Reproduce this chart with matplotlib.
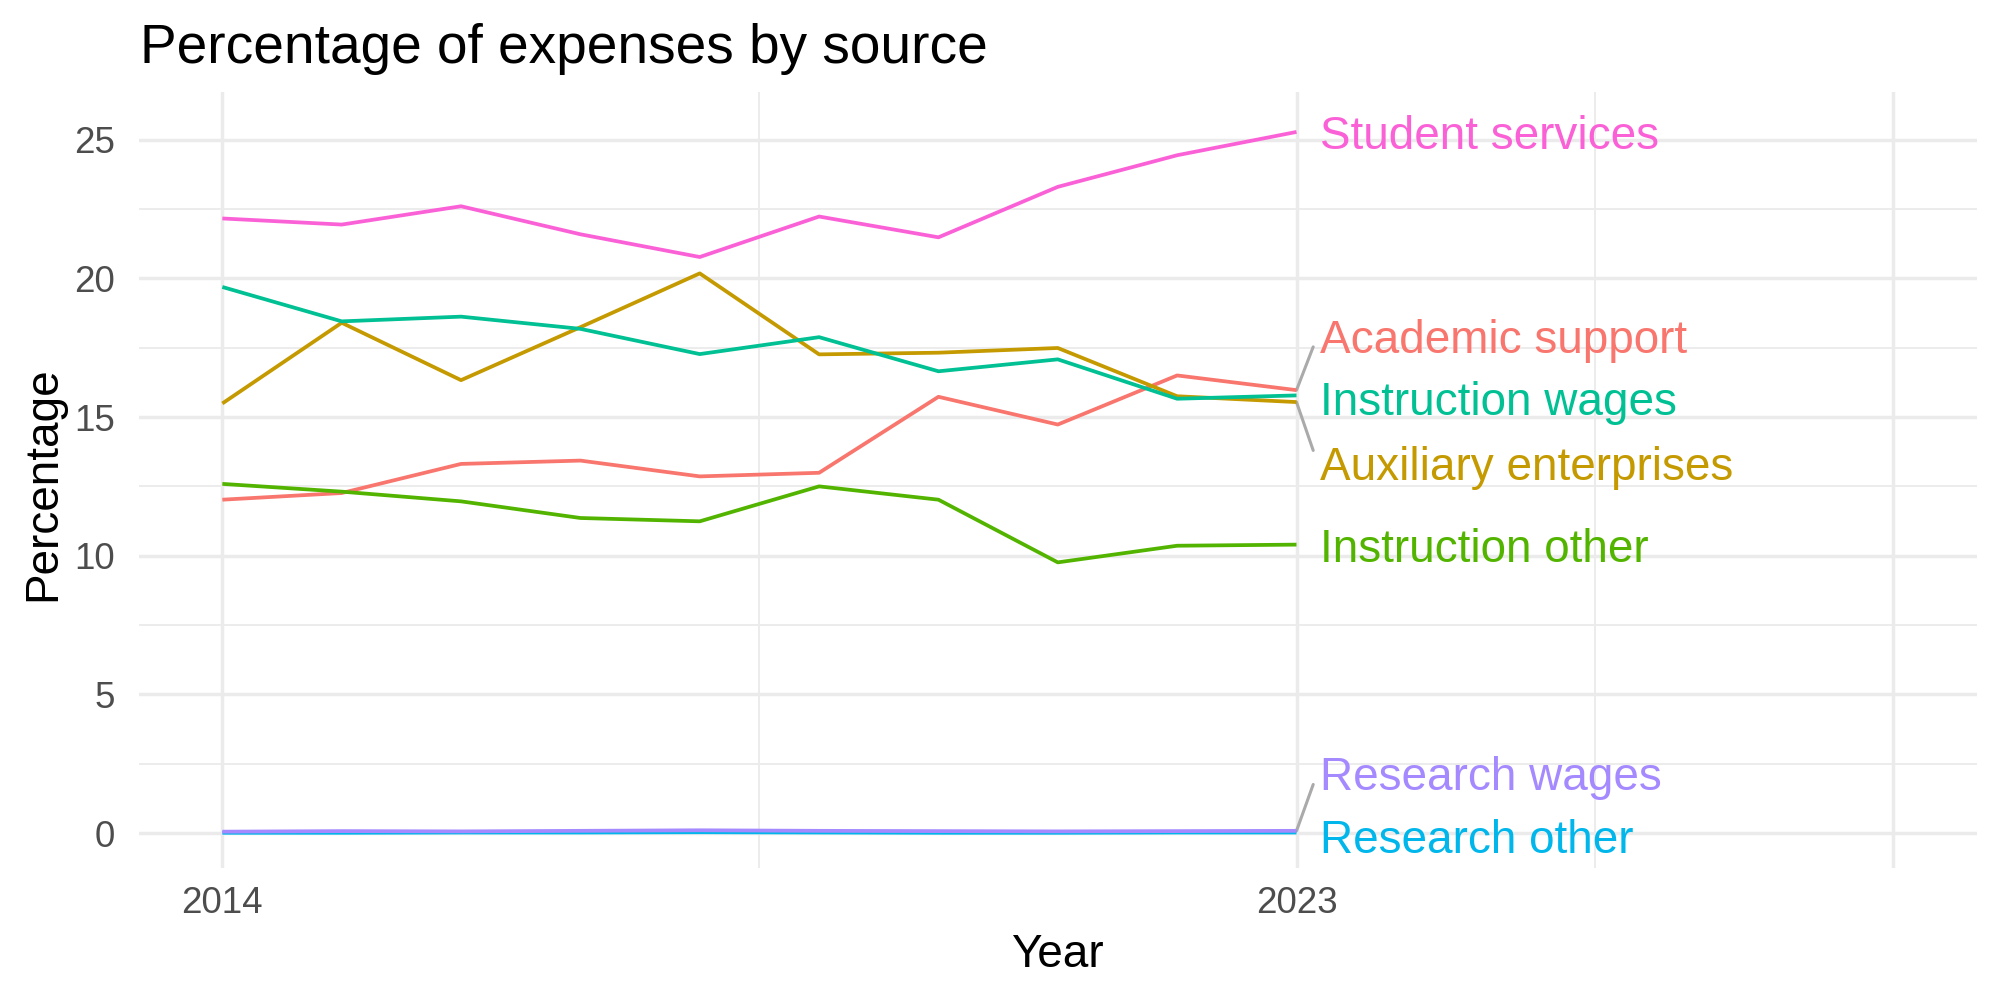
import matplotlib
matplotlib.use("Agg")
import matplotlib.pyplot as plt

plt.rcParams["font.family"] = ["Liberation Sans", "DejaVu Sans"]

years = list(range(2014, 2024))

# series, in ggplot factor order (alphabetical)
sources = ["Academic support", "Auxiliary enterprises", "Instruction other",
           "Instruction wages", "Research other", "Research wages", "Student services"]
academic_support = [12.02, 12.26, 13.31, 13.43, 12.86, 12.99, 15.73, 14.73, 16.50, 15.97]
auxiliary_enterprises = [15.49, 18.40, 16.33, 18.24, 20.18, 17.26, 17.32, 17.49, 15.75, 15.54]
instruction_other = [12.59, 12.31, 11.96, 11.36, 11.24, 12.50, 12.02, 9.76, 10.36, 10.40]
instruction_wages = [19.69, 18.45, 18.62, 18.18, 17.27, 17.88, 16.65, 17.08, 15.66, 15.78]
research_other = [0.01, 0.01, 0.02, 0.02, 0.03, 0.02, 0.01, 0.01, 0.02, 0.02]
research_wages = [0.05, 0.07, 0.06, 0.08, 0.10, 0.08, 0.07, 0.06, 0.07, 0.08]
student_services = [22.16, 21.94, 22.60, 21.59, 20.77, 22.23, 21.48, 23.30, 24.44, 25.28]

series = [academic_support, auxiliary_enterprises, instruction_other, instruction_wages,
          research_other, research_wages, student_services]
colors = ["#F8766D", "#C49A00", "#53B400", "#00C094", "#00B6EB", "#A58AFF", "#FB61D7"]

# label shifts (repel result), in data units
label_shift = {"Academic support": 1.95, "Instruction wages": -0.11,
               "Auxiliary enterprises": -2.18, "Research wages": 2.09,
               "Research other": -0.14}

fig = plt.figure(figsize=(20, 10), dpi=100)
ax = fig.add_axes([0.0694, 0.132, 0.919, 0.776])

for name, vals, c in zip(sources, series, colors):
    ax.plot(years, vals, color=c, lw=2.7, solid_capstyle="butt", zorder=3)

for name, vals, c in zip(sources, series, colors):
    end = vals[-1]
    shift = label_shift.get(name, 0.0)
    ly = end + shift
    if abs(shift) > 1:
        ax.plot([years[-1], years[-1] + 0.14], [end, end + 0.8 * shift],
                color="#AAAAAA", lw=2.2, zorder=2, solid_capstyle="round")
    ax.text(years[-1] + 0.2, ly, name, color=c, fontsize=33,
            ha="left", va="center_baseline", zorder=4)

ax.set_xlim(2013.3, 2028.7)
ax.set_ylim(-1.26, 26.72)
ax.set_xticks([2014, 2023, 2028])
ax.set_xticklabels(["2014", "2023", ""])
ax.set_xticks([2018.5, 2025.5], minor=True)
ax.set_yticks([0, 5, 10, 15, 20, 25])
ax.set_yticks([2.5, 7.5, 12.5, 17.5, 22.5], minor=True)

ax.grid(which="major", color="#EBEBEB", lw=2.5)
ax.grid(which="minor", color="#EBEBEB", lw=1.3)
ax.set_axisbelow(True)
for s in ax.spines.values():
    s.set_visible(False)
ax.tick_params(which="both", length=0, labelsize=26.5, labelcolor="#4D4D4D")
ax.tick_params(axis="x", pad=13)
ax.tick_params(axis="y", pad=17)

fig.text(0.07, 1 - 0.0627, "Percentage of expenses by source", fontsize=39.6,
         ha="left", va="baseline")
fig.text(0.5289, 1 - 0.967, "Year", fontsize=33, ha="center", va="baseline")
fig.text(0.0274, 0.5165, "Percentage", fontsize=33, rotation=90,
         ha="center", va="baseline", rotation_mode="anchor")

fig.savefig("out.png", dpi=100, facecolor="white")
